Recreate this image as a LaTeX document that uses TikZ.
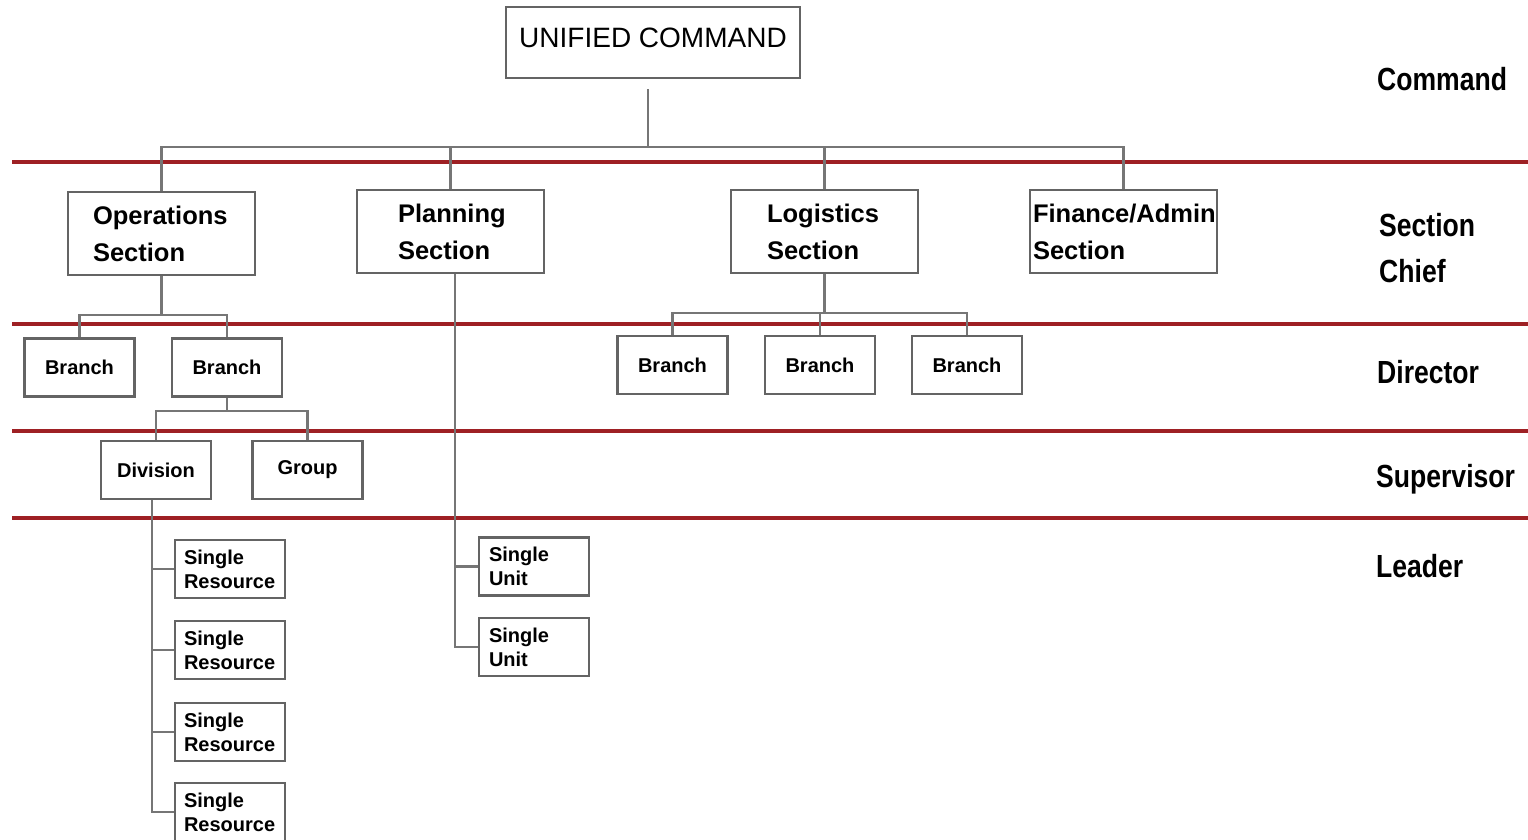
\documentclass[tikz,border=0pt]{standalone}
\usepackage{fontspec}
\setmainfont{Liberation Sans}
\newfontfamily\tierfont[FakeStretch=0.83]{Liberation Sans}
\usepackage{tikz}
\usetikzlibrary{positioning}

\definecolor{linegray}{RGB}{118,118,118}
\definecolor{boxgray}{RGB}{100,100,100}
\definecolor{tierred}{RGB}{158,32,36}

\tikzset{
  box/.style={draw=boxgray, line width=2.2pt, fill=white, inner sep=0pt,
    minimum width=110pt, minimum height=58pt, font=\fontsize{20}{24}\selectfont\bfseries},
  secbox/.style 2 args={draw=boxgray, line width=2.2pt, fill=white, minimum height=83pt,
    inner ysep=0pt, inner xsep=#1, text width=#2, align=left,
    font=\fontsize{25.5}{37}\selectfont\bfseries},
  leafbox/.style 2 args={box, inner xsep=#1, text width=#2, align=left},
  link/.style={draw=linegray, line width=2.5pt},
  tier/.style={draw=tierred, line width=3.5pt},
  tierlabel/.style={anchor=base west, align=left, inner sep=0pt,
    font=\tierfont\fontsize{32}{46}\selectfont\bfseries},
}

\begin{document}
\begin{tikzpicture}[x=1pt,y=-1pt]
\clip (0,0) rectangle (1528,839);
\fill[white] (0,0) rectangle (1528,839);

% tier lines
\foreach \y in {162,324,431,518}
  \draw[tier] (12,\y) -- (1528,\y);

% command
\node[box, minimum width=294pt, minimum height=71pt, text depth=10pt,
  font=\fontsize{28}{34}\selectfont] (uc) at (653,42.5) {UNIFIED COMMAND};

% sections
\node[secbox={25pt}{137pt}] (ops)  at (161.5,233.5) {Operations\\Section};
\node[secbox={41pt}{105pt}] (plan) at (450.5,231.5) {Planning\\Section};
\node[secbox={36pt}{115pt}] (log)  at (824.5,231.5) {Logistics\\Section};
\node[secbox={3pt}{181pt}]  (fin)  at (1123.5,231.5) {Finance/Admin\\Section};

% branches
\node[box] (br1) at (79.5,367.5) {Branch};
\node[box] (br2) at (227,367.5) {Branch};
\node[box] (lb1) at (672.5,365) {Branch};
\node[box] (lb2) at (820,365) {Branch};
\node[box] (lb3) at (967,365) {Branch};

% supervisors
\node[box] (div) at (156,470) {Division};
\node[box] (grp) at (307.5,470) {Group};

% leaders
\node[leafbox={9pt}{92pt}] (sr1) at (230,569) {Single\\Resource};
\node[leafbox={9pt}{92pt}] (sr2) at (230,650) {Single\\Resource};
\node[leafbox={9pt}{92pt}] (sr3) at (230,732) {Single\\Resource};
\node[leafbox={9pt}{92pt}] (sr4) at (230,812) {Single\\Resource};
\node[leafbox={10pt}{90pt}] (su1) at (534,566.5) {Single\\Unit};
\node[leafbox={10pt}{90pt}] (su2) at (534,647) {Single\\Unit};

% connectors
\coordinate (cmdbar) at (648,147);
\draw[link, shorten <=10pt] (uc.south -| cmdbar) -- (cmdbar);
\draw[link] (ops.north) |- (cmdbar) -| (fin.north);
\draw[link] (plan.north) -- (plan.north |- cmdbar);
\draw[link] (log.north) -- (log.north |- cmdbar);

\coordinate (opsbar) at (157,315);
\draw[link] (ops.south) -- (ops.south |- opsbar);
\draw[link] (br1.north) |- (opsbar) -| (br2.north);

\coordinate (br2bar) at (227,411);
\draw[link] (br2.south) -- (br2bar);
\draw[link] (div.north) |- (br2bar) -| (grp.north);

\coordinate (logbar) at (820,313);
\draw[link] (log.south) -- (log.south |- logbar);
\draw[link] (lb1.north) |- (logbar) -| (lb3.north);
\draw[link] (lb2.north) -- (logbar);

\foreach \i in {1,...,4}
  \draw[link] ([xshift=-4pt]div.south) |- (sr\i.west);
\foreach \i in {1,2}
  \draw[link] ([xshift=4.5pt]plan.south) |- (su\i.west);

% tier labels
\node[tierlabel] (tcmd)  at (1377,90) {Command};
\node[tierlabel, anchor=west] (tsec) at (1379,248.5) {Section\\Chief};
\node[tierlabel] (tdir)  at (1377,383) {Director};
\node[tierlabel] (tsup)  at (1376,487) {Supervisor};
\node[tierlabel] (tlead) at (1376,577) {Leader};
\end{tikzpicture}
\end{document}
